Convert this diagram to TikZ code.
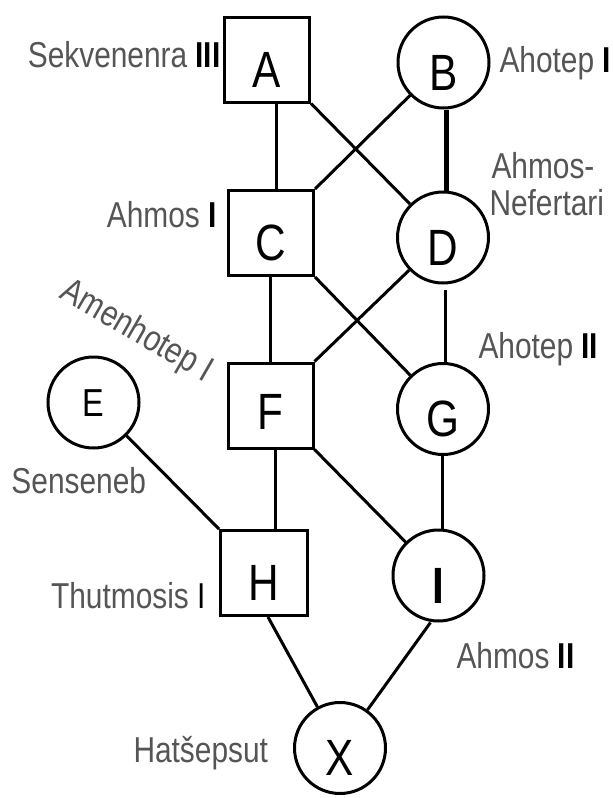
\documentclass[tikz,border=0pt]{standalone}
\usepackage{fontspec}
\setmainfont[FakeStretch=0.83]{Liberation Sans}
\definecolor{labgray}{HTML}{555555}
\newcommand\romnum[1]{\textcolor{black}{\bfseries #1}}
\begin{document}
\begin{tikzpicture}[x=1pt,y=-1pt,line width=3pt,
  sq/.style={draw, rectangle, minimum size=85pt, inner sep=0pt,
    font=\fontsize{51}{51}\selectfont, text height=55pt, text depth=0pt},
  ci/.style={draw, circle, minimum size=91pt, inner sep=0pt,
    font=\fontsize{51}{51}\selectfont, text height=55pt, text depth=0pt},
  lab/.style={text=labgray, inner sep=0pt, font=\fontsize{36}{36}\selectfont},
  link/.style={line width=3pt},
  boldlink/.style={line width=5pt}]
\useasboundingbox (0,0) rectangle (613,798);
% people
\node[sq] (A) at (267,59.5) {A};
\node[ci] (B) at (443.5,62.5) {B};
\node[sq] (C) at (271,233) {C};
\node[ci] (D) at (443,237.5) {D};
\node[ci, font=\fontsize{39}{39}\selectfont, text height=28pt] (E) at (93.5,402.5) {E};
\node[sq, text height=48pt] (F) at (270.5,405.5) {F};
\node[ci] (G) at (443,409) {G};
\node[sq, minimum width=87pt] (H) at (264,573) {H};
\node[ci, font=\fontsize{51}{51}\selectfont\bfseries] (I) at (438.5,575.5) {I};
\node[ci] (X) at (340,748) {X};
% links
\draw[link] ([xshift=9pt]A.south) -- ([xshift=5pt]C.north);
\draw[link] (A.south east) -- (D);
\draw[link] (B) -- (C.north east);
\draw[boldlink] ([xshift=3pt]B.south) -- ([xshift=3.5pt]D.north);
\draw[link] ([xshift=-1pt]C.south) -- ([xshift=-0.5pt]F.north);
\draw[link] (C.south east) -- (G);
\draw[link] (D) -- (F.north east);
\draw[link] ([xshift=2.5pt,yshift=-5pt]D.south) -- ([xshift=2.5pt]G.north);
\draw[link] ([xshift=5pt]F.south) -- ([xshift=11.5pt]H.north);
\draw[link] (F.south east) -- (I);
\draw[link] ([xshift=-1pt]G.south) -- ([xshift=3.5pt]I.north);
\draw[link] (E) -- (H.north west);
\draw[link] ([xshift=4pt]H.south) -- (X);
\draw[link] ([xshift=-8pt]I.south) -- (X);
% labels
\node[lab, anchor=base east] (lA) at (222,67) {Sekvenenra \romnum{III}};
\node[lab, anchor=base west] (lB) at (498,72) {Ahotep \romnum{I}};
\node[lab, anchor=base east] (lC) at (218,227) {Ahmos \romnum{I}};
\node[lab, anchor=base west] (lD1) at (490,178) {Ahmos-};
\node[lab, anchor=base west] (lD2) at (488,215) {Nefertari};
\node[lab, anchor=base west] (lG) at (477,358) {Ahotep \romnum{II}};
\node[lab, anchor=base west, rotate=-30] (lF) at (57,297) {Amenhotep I};
\node[lab, anchor=base west] (lE) at (10,493) {Senseneb};
\node[lab, anchor=base east] (lH) at (207,608) {Thutmosis \textcolor{black}{I}};
\node[lab, anchor=base west] (lI) at (455,668) {Ahmos \romnum{II}};
\node[lab, anchor=base west] (lX) at (132,762) {Hatšepsut};
\end{tikzpicture}
\end{document}
